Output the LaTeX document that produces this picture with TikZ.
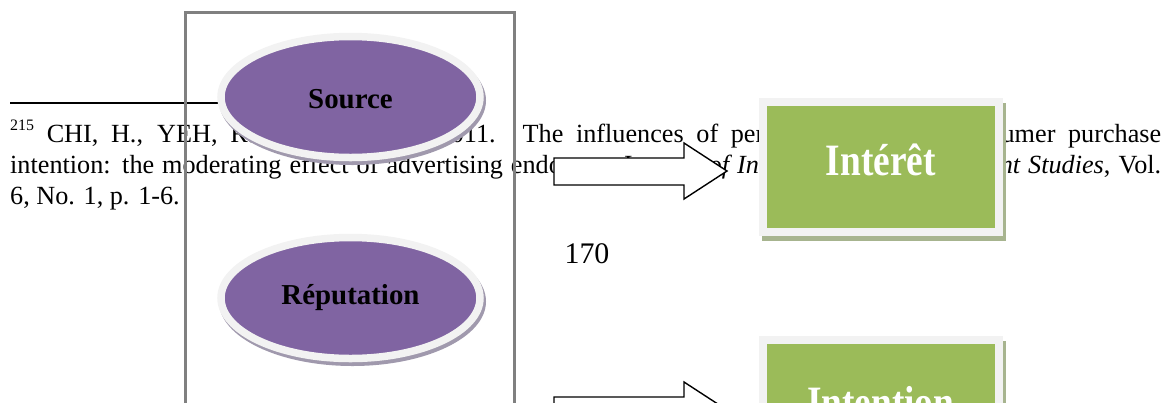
\documentclass[tikz,border=0pt]{standalone}
\usepackage{fontspec}
\usepackage{graphicx}
\setmainfont{Liberation Serif}
\usetikzlibrary{shapes.geometric}
\definecolor{purp}{HTML}{8064A2}
\definecolor{rim}{HTML}{F2F2F2}
\definecolor{pshadow}{HTML}{A099AD}
\definecolor{leaf}{HTML}{9BBB59}
\definecolor{gshadow}{HTML}{A7B48F}
\definecolor{framegray}{HTML}{808080}
\newcommand{\fnfont}{\fontsize{26.3}{30}\selectfont}
\tikzset{
  textline/.style={anchor=base west, inner sep=0pt, font=\fnfont},
  blockarrow/.style={draw=black, fill=white, line width=1.4bp, line join=miter},
  ovalnode/.style={ellipse, fill=purp, draw=rim, line width=7.5bp,
    minimum width=259bp, minimum height=121bp, inner sep=0pt,
    font=\fontsize{29}{29}\selectfont\bfseries, text=black},
  ovalshadow/.style={fill=pshadow},
  greenbox/.style={rectangle, fill=leaf, draw=rim, line width=8bp,
    minimum width=236.5bp, minimum height=130.5bp, inner sep=0pt,
    font=\fontsize{37.5}{37.5}\selectfont\bfseries, text=white},
  boxshadow/.style={fill=gshadow},
  framebox/.style={draw=framegray, line width=3bp},
}
\begin{document}
\begin{tikzpicture}[x=1bp,y=-1bp]
\useasboundingbox (0,0) rectangle (1173,402);
\clip (0,0) rectangle (1173,402);
% footnote text
\node[textline] (line1) at (10,142) {\makebox[1151bp][s]{\raisebox{12bp}{\fontsize{16}{16}\selectfont 215} CHI, H., YEH, R. and TSAI, Y., 2011. The influences of perceived value on consumer purchase}};
\node[textline] (line2) at (10,173) {\makebox[1151bp][s]{intention: the moderating effect of advertising endorser. \textit{Journal of International Management Studies}, Vol.}};
\node[textline] (line3) at (10,204) {6, No. 1, p. 1-6.};
\draw[line width=1.6bp] (10,103) -- (325,103);
% page number
\node[anchor=base, inner sep=0pt, font=\fontsize{30}{30}\selectfont] (pagenum) at (587,263) {170};
% gray frame
\draw[framebox] (185,420) -- (185,12) -- (514,12) -- (514,420);
% ellipses
\fill[ovalshadow] (352.5,100.5) ellipse [x radius=133.5, y radius=64.5];
\node[ovalnode, text height=22bp, text depth=0bp] (source) at (350.5,97) {Source};
\fill[ovalshadow] (352.5,301.5) ellipse [x radius=133.5, y radius=64.5];
\node[ovalnode, text height=16bp, text depth=4bp] (reputation) at (350.5,298) {Réputation};
% block arrows
\foreach \dy in {0,239}{
  \path[blockarrow] (554,158+\dy) -- (684,158+\dy) -- (684,143+\dy) -- (727,171+\dy)
    -- (684,199+\dy) -- (684,185+\dy) -- (554,185+\dy) -- cycle;
}
% green boxes
\fill[boxshadow] (761.5,103) rectangle (1006,241);
\node[greenbox, text height=20bp, text depth=3.5bp] (interet) at (880.75,166.75) {\scalebox{1}[1.2]{Intérêt}};
\fill[boxshadow] (761.5,341) rectangle (1006,479);
\node[greenbox, text height=24.5bp, text depth=0bp] (intention) at (880.75,404.75) {\scalebox{1}[1.2]{Intention}};
\end{tikzpicture}
\end{document}
